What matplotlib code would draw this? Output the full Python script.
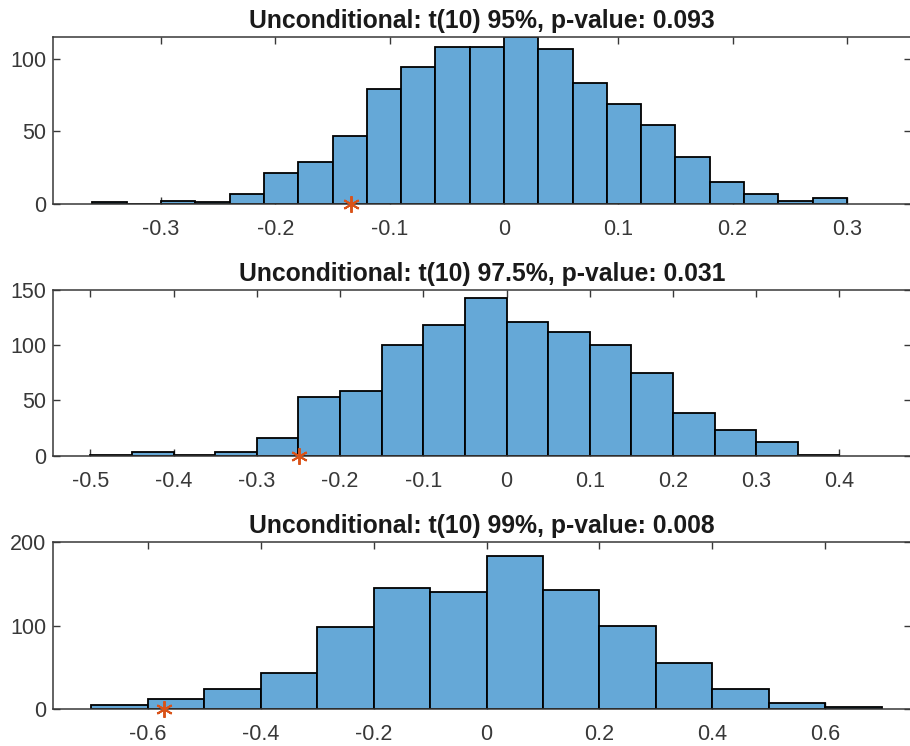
import numpy as np
import matplotlib
matplotlib.use("Agg")
import matplotlib.pyplot as plt

plt.rcParams['font.family'] = ['Liberation Sans', 'DejaVu Sans']
plt.rcParams['axes.unicode_minus'] = False

# --- data ---
titles = [
    "Unconditional: t(10) 95%, p-value: 0.093",
    "Unconditional: t(10) 97.5%, p-value: 0.031",
    "Unconditional: t(10) 99%, p-value: 0.008",
]

# bin start and width for each panel
bin_start = [-0.36, -0.50, -0.70]
bin_width = [0.03, 0.05, 0.10]

counts_95 = [1, 0, 2, 1, 7, 21, 29, 47, 79, 94, 108, 108, 115, 107, 83, 69, 54, 32, 15, 7, 2, 4]
counts_975 = [1, 3, 1, 3, 16, 53, 59, 100, 118, 143, 121, 112, 100, 75, 39, 23, 12, 1]
counts_99 = [5, 12, 24, 43, 98, 145, 140, 183, 143, 100, 55, 24, 7, 2]

# observed statistic (orange asterisk)
observed = [-0.134, -0.249, -0.572]

xticks = [
    [-0.3, -0.2, -0.1, 0, 0.1, 0.2, 0.3],
    [-0.5, -0.4, -0.3, -0.2, -0.1, 0, 0.1, 0.2, 0.3, 0.4],
    [-0.6, -0.4, -0.2, 0, 0.2, 0.4, 0.6],
]
xticklabels = [
    ["-0.3", "-0.2", "-0.1", "0", "0.1", "0.2", "0.3"],
    ["-0.5", "-0.4", "-0.3", "-0.2", "-0.1", "0", "0.1", "0.2", "0.3", "0.4"],
    ["-0.6", "-0.4", "-0.2", "0", "0.2", "0.4", "0.6"],
]
yticks = [[0, 50, 100], [0, 50, 100, 150], [0, 100, 200]]
xlims = [(-0.3945, 0.356), (-0.545, 0.486), (-0.768, 0.752)]
ylims = [(0, 115), (0, 150), (0, 200)]

all_counts = [counts_95, counts_975, counts_99]

W, H = 910, 746
fig = plt.figure(figsize=(W / 100, H / 100), dpi=100)

# axes boxes in pixels: (left, top, right, bottom)
boxes = [(53, 37, 911, 203.7), (53, 290, 911, 455.7), (53, 542.3, 911, 708.7)]

face = '#65A8D7'
axis_col = '#383838'

for i in range(3):
    l, t, r, b = boxes[i]
    ax = fig.add_axes([l / W, 1 - b / H, (r - l) / W, (b - t) / H])
    cnt = np.array(all_counts[i])
    edges = bin_start[i] + bin_width[i] * np.arange(len(cnt))
    ax.bar(edges, cnt, width=bin_width[i], align='edge', color=face,
           edgecolor='black', linewidth=1.3, zorder=2)
    ax.plot([observed[i]], [0], linestyle='none', marker=(6, 2, 0),
            markersize=12, markeredgewidth=1.4, color='#D95319',
            clip_on=False, zorder=5)
    ax.set_xlim(*xlims[i])
    ax.set_ylim(*ylims[i])
    ax.set_xticks(xticks[i])
    ax.set_xticklabels(xticklabels[i])
    ax.set_yticks(yticks[i])
    ax.tick_params(direction='in', length=5, width=1.0, colors=axis_col,
                   labelsize=15.5, top=True, right=True)
    ax.tick_params(axis='x', pad=11)
    ax.tick_params(axis='y', pad=5)
    for s in ax.spines.values():
        s.set_linewidth(1.1)
        s.set_color(axis_col)
        s.set_zorder(3)
    ax.set_title(titles[i], fontsize=17.8, fontweight='bold', color='#1a1a1a', pad=6.5)

fig.savefig('out.png', dpi=100)
